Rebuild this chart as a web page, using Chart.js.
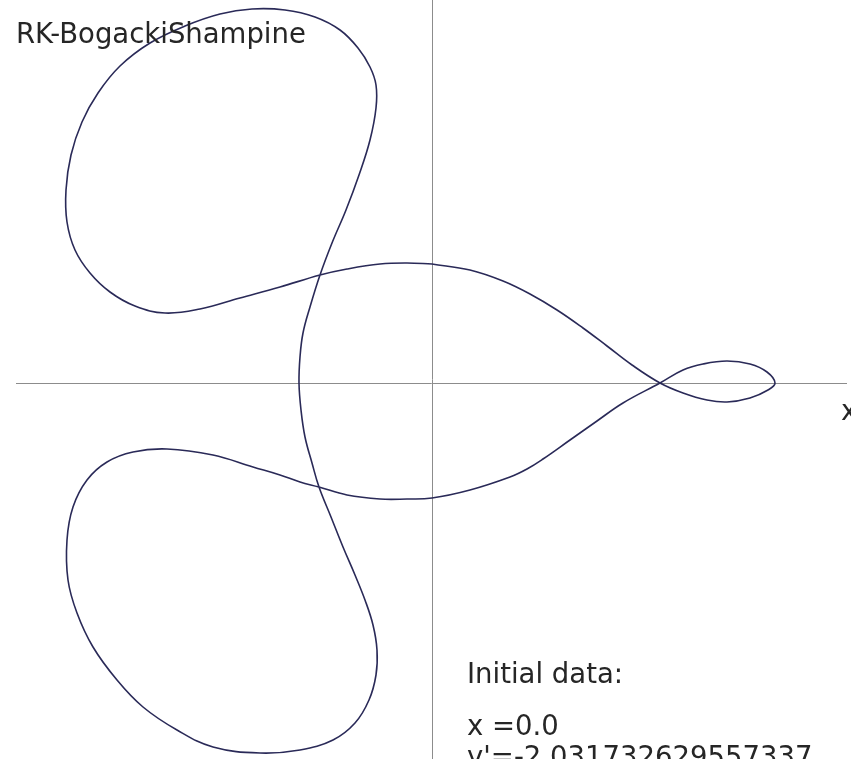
<!DOCTYPE html>
<html lang="en">
  <head>
    <meta charset="UTF-8" />
    <title>RK-BogackiShampine</title>
    <script src="https://cdn.jsdelivr.net/npm/chart.js@4/dist/chart.umd.min.js"></script>
    <style>
      html, body { margin: 0; padding: 0; background: #fff; }
      canvas { display: block; }
    </style>
  </head>
  <body>
    <canvas id="orbit" width="851" height="759"></canvas>
    <script>
      // orbit samples (x, y), one closed loop starting on the upper y-axis crossing
      const orbitX = [
        0.00, 0.38, 0.71, 0.98, 1.25, 1.51, 1.75, 2.00, 2.28,
        2.51, 2.75, 2.95, 3.18, 3.36, 3.43,
        3.35, 3.18, 2.95, 2.71, 2.51, 2.28,
        1.91, 1.65, 1.38, 1.11, 0.95, 0.78, 0.38, 0.00, -0.25, -0.52, -0.85, -1.13,
        -1.32, -1.52, -1.79, -2.19, -2.65, -2.99, -3.25, -3.45, -3.59, -3.65,
        -3.64, -3.55, -3.39, -3.15, -2.89, -2.55, -2.19, -1.72, -1.32, -0.99,
        -0.77, -0.63, -0.56, -0.55, -0.59, -0.67, -0.77, -0.89, -1.01, -1.13,
        -1.20, -1.27, -1.31, -1.33, -1.32, -1.29, -1.22, -1.12,
        -1.00, -0.86, -0.73, -0.62, -0.56, -0.56, -0.62, -0.74, -0.92, -1.17,
        -1.47, -1.80, -2.12, -2.47, -2.82, -3.12, -3.34, -3.50, -3.61, -3.66,
        -3.65, -3.57, -3.42, -3.22, -2.97, -2.67, -2.32, -1.92, -1.52, -1.12,
        -0.85, -0.52, -0.25, 0.00
      ];
      const orbitY = [
        1.19, 1.13, 1.02, 0.89, 0.73, 0.55, 0.37, 0.18, 0.00,
        -0.10, -0.17, -0.19, -0.15, -0.07, 0.00,
        0.11, 0.19, 0.22, 0.19, 0.13, 0.00,
        -0.20, -0.38, -0.57, -0.76, -0.86, -0.94, -1.07, -1.15, -1.16, -1.16, -1.12, -1.04,
        -0.99, -0.92, -0.84, -0.72, -0.66, -0.69, -0.79, -0.97, -1.24, -1.57,
        -1.97, -2.30, -2.64, -2.97, -3.24, -3.47, -3.64, -3.70, -3.67, -3.57,
        -3.40, -3.17, -2.92, -2.67, -2.42, -2.17, -1.92, -1.64, -1.34, -1.04,
        -0.80, -0.54, -0.27, 0.00, 0.26, 0.50, 0.76, 1.08,
        1.40, 1.73, 2.08, 2.43, 2.75, 2.98, 3.16, 3.35, 3.53, 3.66,
        3.73, 3.74, 3.69, 3.57, 3.40, 3.17, 2.90, 2.61, 2.28, 1.93,
        1.61, 1.33, 1.10, 0.91, 0.77, 0.70, 0.74, 0.85, 0.96, 1.08,
        1.14, 1.19, 1.20, 1.19
      ];

      const titleText = "RK-BogackiShampine";
      const axisLabel = "x";
      const infoLines = ["Initial data:", "x =0.0", "y'=-2.031732629557337"];

      const points = orbitX.map((x, i) => ({ x: x, y: orbitY[i] }));

      // cross-shaped axes through the origin plus the text annotations
      const axesAndText = {
        id: "axesAndText",
        beforeDatasetsDraw(chart) {
          const ctx = chart.ctx;
          const x0 = Math.round(chart.scales.x.getPixelForValue(0)) + 0.5;
          const y0 = Math.round(chart.scales.y.getPixelForValue(0)) + 0.5;
          ctx.save();
          ctx.strokeStyle = "#8c8c8c";
          ctx.lineWidth = 1;
          ctx.beginPath();
          ctx.moveTo(16, y0);
          ctx.lineTo(847, y0);
          ctx.moveTo(x0, 0);
          ctx.lineTo(x0, chart.height);
          ctx.stroke();
          ctx.restore();
        },
        afterDatasetsDraw(chart) {
          const ctx = chart.ctx;
          ctx.save();
          ctx.fillStyle = "#262626";
          ctx.font = '27.5px "DejaVu Sans"';
          ctx.textBaseline = "alphabetic";
          ctx.fillText(titleText, 16, 43);
          ctx.fillText(axisLabel, 841, 420);
          ctx.fillText(infoLines[0], 467, 683);
          ctx.fillText(infoLines[1], 467, 735);
          ctx.fillText(infoLines[2], 467, 766);
          ctx.restore();
        },
      };

      new Chart(document.getElementById("orbit"), {
        type: "scatter",
        data: {
          datasets: [
            {
              data: points,
              showLine: true,
              borderColor: "#2a2a58",
              borderWidth: 1.6,
              pointRadius: 0,
              tension: 0.4,
              fill: false,
            },
          ],
        },
        options: {
          responsive: false,
          animation: false,
          layout: { padding: 0 },
          plugins: {
            legend: { display: false },
            tooltip: { enabled: false },
          },
          scales: {
            x: { type: "linear", min: -4.32, max: 4.19, display: false },
            y: { type: "linear", min: -3.76, max: 3.83, display: false },
          },
        },
        plugins: [axesAndText],
      });
    </script>
  </body>
</html>
